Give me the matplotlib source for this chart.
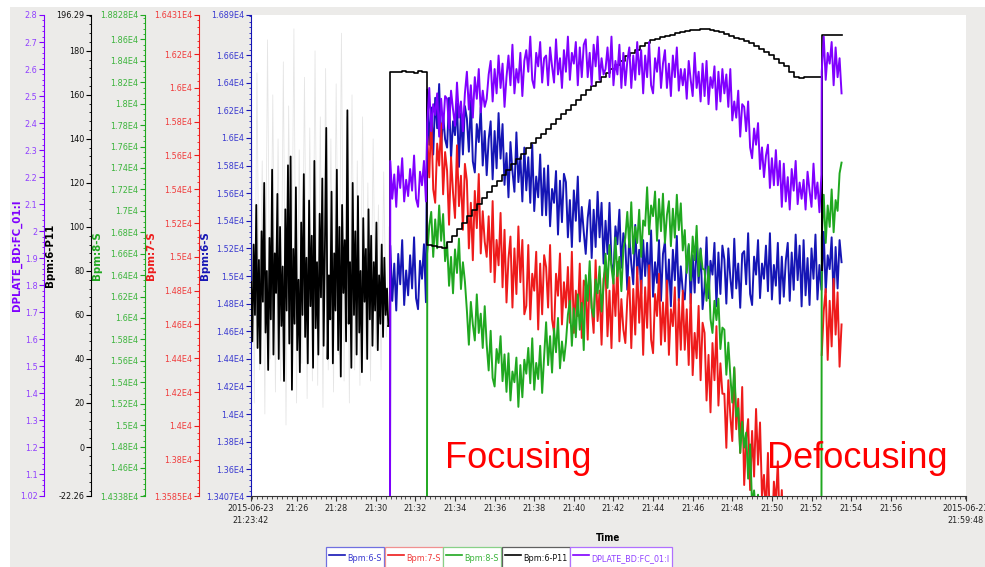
from datetime import datetime, timedelta
import matplotlib
matplotlib.use("Agg")
import matplotlib.pyplot as plt
import matplotlib.dates as mdates
from matplotlib.ticker import FixedLocator, MultipleLocator, FuncFormatter
from matplotlib.lines import Line2D
from matplotlib.patches import Rectangle

plt.rcParams['font.family'] = 'DejaVu Sans'
plt.rcParams['font.stretch'] = 'condensed'

DAY = "2015-06-23 "
GAP = float('nan')

# ---------------- data ----------------
# Bpm:6-S
blue_off = [13000]                                               # 21:30:43
blue_a = [15220, 14820, 15090, 14750, 15160, 14940, 15260, 14790, 15040, 14860,   # 21:30:44, 6 s
          15150, 14910, 15280, 14840, 14760, 15110, 14980, 15230, 14810]
blue_b = [16350, 15950, 16220, 15880, 16290, 16070, 16390, 15920, 16170, 15990,   # 21:32:36, 6 s
          15930, 16290, 15850, 16120, 16020, 16250, 15790, 16180, 15880, 16230,
          16140, 15900, 16270, 15830, 15750, 16100, 15970, 16220, 15800, 16050,
          15730, 15990, 16120, 15700, 16050, 15780, 16180, 15850, 16100, 15660,
          15890, 15570, 15970, 15760, 15610, 16040, 15680, 15860, 15540, 15930,
          15620, 15860, 15530, 15950, 15470, 15720, 15570, 15880, 15440, 15780,
          15440, 15800, 15360, 15630, 15530, 15760, 15300, 15690, 15390, 15740,
          15680, 15280, 15550, 15210, 15620, 15400, 15720, 15250, 15500, 15320,
          15160, 15420, 15550, 15130, 15480, 15210, 15610, 15280, 15530, 15090,
          15400, 15160, 15530, 15090, 15010, 15360, 15230, 15480, 15060, 15310,
          15220, 14900, 15300, 15090, 14940, 15370, 15010, 15190, 14870, 15260,
          15000, 15240, 14910, 15330, 14850, 15100, 14950, 15260, 14820, 15160,
          15250, 14850, 15120, 14780, 15190, 14970, 15290, 14820, 15070, 14890,
          14830, 15090, 15220, 14800, 15150, 14880, 15280, 14950, 15200, 14760,
          14920, 15280, 14840, 15110, 15010, 15240, 14780, 15170, 14870, 15220,
          15120, 14800, 15200, 14990, 14840, 15270, 14910, 15090, 14770, 15160,
          15180, 14940, 15310, 14870, 14790, 15140, 15010, 15260, 14840, 15090,
          14980, 15220, 14890, 15310, 14830, 15080, 14930, 15240, 14800, 15140,
          14850, 15110, 15240, 14820, 15170, 14900, 15300, 14970, 15220, 14780,
          15260, 14860, 15130, 14790, 15200, 14980, 15300, 14830, 15080, 14900]
blue_c = [14960, 15320, 14880, 15150, 15050, 15280, 14820, 15210, 14910, 15260, 15100]  # 21:52:31, 6 s

# Bpm:7-S
red_b = [15710, 15470, 15840, 15400, 15320, 15670, 15540, 15790, 15370, 15620,    # 21:32:36, 6 s
         15510, 15190, 15590, 15380, 15230, 15660, 15300, 15480, 15160, 15550,
         15450, 15050, 15320, 14980, 15390, 15170, 15490, 15020, 15270, 15090,
         15000, 15240, 14910, 15330, 14850, 15100, 14950, 15260, 14820, 15160,
         14730, 14990, 15120, 14700, 15050, 14780, 15180, 14850, 15100, 14660,
         14710, 15070, 14630, 14900, 14800, 15030, 14570, 14960, 14660, 15010,
         14940, 14700, 15070, 14630, 14550, 14900, 14770, 15020, 14600, 14850,
         14700, 14940, 14610, 15030, 14550, 14800, 14650, 14960, 14520, 14860,
         14830, 14510, 14910, 14700, 14550, 14980, 14620, 14800, 14480, 14870,
         14930, 14530, 14800, 14460, 14870, 14650, 14970, 14500, 14750, 14570,
         14490, 14750, 14880, 14460, 14810, 14540, 14940, 14610, 14860, 14420,
         14820, 14580, 14950, 14510, 14430, 14780, 14650, 14900, 14480, 14730,
         14500, 14860, 14420, 14690, 14590, 14820, 14360, 14750, 14450, 14800,
         14450, 14690, 14360, 14780, 14300, 14550, 14400, 14710, 14270, 14610,
         14550, 14150, 14420, 14080, 14490, 14270, 14590, 14120, 14370, 14190,
         14190, 13870, 14270, 14060, 13910, 14340, 13980, 14160, 13840, 14230,
         13650, 13910, 14040, 13620, 13970, 13700, 14100, 13770, 14020, 13580,
         13710, 13470, 13840, 13400, 13320, 13670, 13540, 13790, 13370, 13620,
         13300, 13180, 13350, 13150, 13280, 13200, 13320, 13160, 13260, 13190,
         13240, 13170, 13300, 13150, 13260, 13180, 13290, 13160, 13250, 13200]
red_c = [14420, 14680, 14810, 14390, 14740, 14470, 14870, 14540, 14790, 14350, 14600]  # 21:52:31, 6 s

# Bpm:8-S
green_off = [14000]                                              # 21:32:35
green_b = [16600, 16860, 16990, 16570, 16920, 16650, 17050, 16720, 16970, 16530,  # 21:32:36, 6 s
           16700, 16300, 16570, 16230, 16640, 16420, 16740, 16270, 16520, 16340,
           16070, 15750, 16150, 15940, 15790, 16220, 15860, 16040, 15720, 16110,
           15750, 15510, 15880, 15440, 15360, 15710, 15580, 15830, 15410, 15660,
           15310, 15670, 15230, 15500, 15400, 15630, 15170, 15560, 15260, 15610,
           15480, 15720, 15390, 15810, 15330, 15580, 15430, 15740, 15300, 15640,
           15960, 15560, 15830, 15490, 15900, 15680, 16000, 15530, 15780, 15600,
           15770, 16030, 16160, 15740, 16090, 15820, 16220, 15890, 16140, 15700,
           16400, 16160, 16530, 16090, 16010, 16360, 16230, 16480, 16060, 16310,
           16600, 16280, 16680, 16470, 16320, 16750, 16390, 16570, 16250, 16640,
           16750, 16990, 16660, 17080, 16600, 16850, 16700, 17010, 16570, 16910,
           16860, 17220, 16780, 17050, 16950, 17180, 16720, 17110, 16810, 17160,
           16700, 16960, 17090, 16670, 17020, 16750, 17150, 16820, 17070, 16630,
           16820, 16420, 16690, 16350, 16760, 16540, 16860, 16390, 16640, 16460,
           16450, 16160, 16480, 15990, 15860, 16160, 15980, 16180, 15710, 15910,
           15890, 15470, 15770, 15460, 15210, 15540, 15080, 15160, 14740, 15030,
           14790, 14930, 14500, 14820, 14240, 14390, 14140, 14350, 13810, 14050,
           13900, 13820, 13950, 13780, 13880, 13800, 13920, 13760, 13870, 13810,
           13850, 13780, 13900, 13760, 13840, 13800, 13880, 13770, 13860, 13790,
           13830, 13760, 13880, 13790, 13850, 13770, 13900, 13780, 13840, 13800]
green_c = [16750, 17150, 16700, 17050, 16850, 17200, 16800, 17100, 17000, 17350, 17450]  # 21:52:31, 6 s

# Bpm:6-P11
p11_noise = [75, 48, 92, 60, 110, 45, 85, 38, 98, 66, 120, 52, 80, 35, 95,        # 21:23:42, 4 s
             58, 126, 42, 88, 70, 115, 40, 100, 55, 82, 30, 108, 62, 128, 47,
             132, 26, 90, 56, 118, 44, 76, 34, 102, 60, 124, 50, 86, 38, 112,
             64, 96, 36, 130, 54, 84, 42, 106, 68, 122, 46, 92, 145, 40, 78,
             58, 116, 38, 88, 62, 126, 44, 100, 32, 110, 70, 94, 48, 153, 56,
             84, 36, 120, 60, 98, 42, 114, 52, 80, 34, 104, 66, 90, 40, 108,
             58, 96, 46, 84, 62, 102, 44, 78, 56, 92, 50, 86, 60, 72, 55]
p11_haze = [150, 20, 170, 35, 130, 15, 185, 40, 160, 25,                         # 21:23:44, 8 s (faint)
            140, 30, 175, 10, 155, 45, 190, 20, 135, 38,
            168, 22, 145, 30, 180, 28, 150, 18, 172, 35,
            140, 25, 165, 42, 188, 30, 150, 20, 160, 35,
            130, 28, 150, 40, 120, 30, 140, 45, 110, 35,
            125, 50, 100]
p11_hold = [170.2, 170.6, 170.4, 170.8, 170.3, 170.5, 170.1, 170.7, 170.4, 170.6]  # 21:30:44, 12 s
p11_ramp = [91.8, 91.5, 91.0, 90.4, 93.2, 96.1, 99.0, 101.9, 104.8, 107.7,        # 21:32:36, 15 s
            110.6, 113.3, 115.9, 118.5, 121.0, 123.5, 126.0, 128.5, 131.0, 133.3,
            135.8, 138.0, 140.2, 142.4, 144.6, 146.8, 149.0, 151.1, 153.3, 155.5,
            157.6, 159.8, 162.0, 164.0, 166.0, 167.9, 169.9, 171.8, 173.7, 175.5,
            177.6, 179.1, 180.6, 182.0, 183.4, 184.8, 185.5, 186.1, 186.7, 187.3,
            187.9, 188.6, 188.9, 189.3, 189.6, 189.9, 189.9, 189.7, 189.2, 188.6,
            187.7, 186.9, 186.0, 185.2, 184.3, 183.5, 182.2, 180.8, 179.5, 178.1,
            176.4, 174.7, 173.0, 170.5, 168.0, 167.5, 167.9, 168.1, 168.0, 168.2]
p11_dip = [80.4]                                                 # 21:52:31
p11_top = [187.2, 187.0, 187.3, 187.1, 187.4, 187.2]             # 21:52:32, 12 s

# DPLATE_BD:FC_01:I
purple_off = [0.9]                                               # 21:30:43
purple_a = [2.26, 2.12, 2.21, 2.09, 2.24, 2.16, 2.27, 2.11, 2.19, 2.13,          # 21:30:44, 6 s
            2.23, 2.15, 2.28, 2.12, 2.09, 2.22, 2.17, 2.26, 2.11]
purple_b = [2.40, 2.53, 2.37, 2.47, 2.43, 2.51, 2.35, 2.49, 2.38, 2.50,          # 21:32:36, 6 s
            2.49, 2.38, 2.52, 2.45, 2.39, 2.55, 2.42, 2.48, 2.37, 2.51,
            2.59, 2.45, 2.54, 2.42, 2.57, 2.49, 2.60, 2.44, 2.52, 2.46,
            2.49, 2.58, 2.63, 2.48, 2.60, 2.51, 2.65, 2.53, 2.62, 2.46,
            2.57, 2.65, 2.54, 2.69, 2.51, 2.60, 2.55, 2.66, 2.50, 2.63,
            2.67, 2.59, 2.72, 2.56, 2.53, 2.66, 2.61, 2.70, 2.55, 2.64,
            2.65, 2.54, 2.68, 2.61, 2.55, 2.71, 2.58, 2.64, 2.53, 2.67,
            2.59, 2.72, 2.56, 2.66, 2.62, 2.70, 2.54, 2.68, 2.57, 2.69,
            2.71, 2.57, 2.66, 2.54, 2.69, 2.61, 2.72, 2.56, 2.64, 2.58,
            2.60, 2.68, 2.57, 2.72, 2.54, 2.63, 2.58, 2.69, 2.53, 2.66,
            2.54, 2.63, 2.68, 2.53, 2.65, 2.56, 2.70, 2.58, 2.67, 2.51,
            2.65, 2.57, 2.70, 2.54, 2.51, 2.64, 2.59, 2.68, 2.53, 2.62,
            2.67, 2.53, 2.62, 2.50, 2.65, 2.57, 2.68, 2.52, 2.60, 2.54,
            2.60, 2.49, 2.63, 2.56, 2.50, 2.66, 2.53, 2.59, 2.48, 2.62,
            2.50, 2.63, 2.47, 2.57, 2.53, 2.61, 2.45, 2.59, 2.48, 2.60,
            2.51, 2.58, 2.46, 2.60, 2.41, 2.48, 2.42, 2.52, 2.35, 2.47,
            2.46, 2.37, 2.48, 2.31, 2.27, 2.38, 2.32, 2.40, 2.23, 2.31,
            2.20, 2.28, 2.32, 2.16, 2.27, 2.17, 2.30, 2.17, 2.26, 2.09,
            2.25, 2.11, 2.20, 2.08, 2.23, 2.15, 2.26, 2.10, 2.18, 2.12,
            2.19, 2.08, 2.22, 2.15, 2.09, 2.25, 2.12, 2.18, 2.07, 2.21]
purple_c = [2.59, 2.72, 2.56, 2.66, 2.62, 2.70, 2.54, 2.68, 2.57, 2.64, 2.51]    # 21:52:31, 6 s

# axis ranges and ticks
blue_lim = (13407, 16890)
red_lim = (13585, 16431)
green_lim = (14338, 18828)
p11_lim = (-22.26, 196.29)
purple_lim = (1.02, 2.8)
blue_ticks = [13407] + list(range(13600, 16601, 200)) + [16890]
red_ticks = [13585] + list(range(13800, 16201, 200)) + [16431]
green_ticks = [14338] + list(range(14600, 18601, 200)) + [18828]
p11_ticks = [-22.26] + list(range(0, 181, 20)) + [196.29]
purple_ticks = [1.02, 1.1, 1.2, 1.3, 1.4, 1.5, 1.6, 1.7, 1.8, 1.9, 2.0,
                2.1, 2.2, 2.3, 2.4, 2.5, 2.6, 2.7, 2.8]

x_start, x_end = "21:23:42", "21:59:48"
x_tick_times = ["21:23:42", "21:26:00", "21:28:00", "21:30:00", "21:32:00", "21:34:00",
                "21:36:00", "21:38:00", "21:40:00", "21:42:00", "21:44:00", "21:46:00",
                "21:48:00", "21:50:00", "21:52:00", "21:54:00", "21:56:00", "21:59:48"]
x_tick_labels = ["2015-06-23\n21:23:42", "21:26", "21:28", "21:30", "21:32", "21:34",
                 "21:36", "21:38", "21:40", "21:42", "21:44", "21:46",
                 "21:48", "21:50", "21:52", "21:54", "21:56", "2015-06-23\n21:59:48"]


def ts(hms):
    return datetime.strptime(DAY + hms, "%Y-%m-%d %H:%M:%S")


def build(*segments):
    # each segment: (start time, sample step in seconds, values)
    times, vals = [], []
    for start, step, values in segments:
        t0 = ts(start)
        times += [t0 + timedelta(seconds=step * i) for i in range(len(values))]
        vals += list(values)
    return times, vals


def e4(v, pos=None):
    return f"{v / 1e4:.4f}".rstrip('0').rstrip('.') + "E4"


blue_t, blue_v = build(("21:30:43", 1, blue_off), ("21:30:44", 6, blue_a),
                       ("21:32:36", 6, blue_b), ("21:52:31", 6, blue_c))
red_t, red_v = build(("21:32:36", 6, red_b), ("21:52:30", 1, [GAP]), ("21:52:31", 6, red_c))
green_t, green_v = build(("21:32:35", 1, green_off), ("21:32:36", 6, green_b),
                         ("21:52:31", 6, green_c))
noise_t, noise_v = build(("21:23:42", 4, p11_noise))
p11_t, p11_v = build(("21:30:38", 1, p11_noise[-1:]), ("21:30:44", 12, p11_hold),
                     ("21:32:36", 15, p11_ramp), ("21:52:31", 1, p11_dip),
                     ("21:52:32", 12, p11_top))
haze_t, haze_v = build(("21:23:44", 8, p11_haze))
purple_t, purple_v = build(("21:30:43", 1, purple_off), ("21:30:44", 6, purple_a),
                           ("21:32:36", 6, purple_b), ("21:52:31", 6, purple_c))

# ---------------- figure ----------------
W, H = 985, 567
BG = '#ecebe9'
fig = plt.figure(figsize=(W / 100, H / 100), dpi=100, facecolor=BG)
fig.add_artist(Rectangle((0, 1 - 7 / H), 1, 7 / H, transform=fig.transFigure,
                         facecolor='white', edgecolor='none'))
fig.add_artist(Rectangle((0, 0), 10 / W, 1, transform=fig.transFigure,
                         facecolor='white', edgecolor='none'))

left, right, top, bottom = 251, 966, 15, 496
ax = fig.add_axes([left / W, 1 - bottom / H, (right - left) / W, (bottom - top) / H])
ax.set_facecolor('white')

# name, line colour, text colour, legend edge, limits, ticks, formatter, minor step,
# spine offset px, label x px, times, values
series = [
    ('Bpm:6-S', '#1515b5', '#3a3ad0', '#7070e0', blue_lim, blue_ticks, FuncFormatter(e4), 40, 0, 205,
     blue_t, blue_v),
    ('Bpm:7-S', '#ee1b1b', '#f03c3c', '#f09090', red_lim, red_ticks, FuncFormatter(e4), 40, 52, 151,
     red_t, red_v),
    ('Bpm:8-S', '#20a820', '#3cb43c', '#88d088', green_lim, green_ticks, FuncFormatter(e4), 50, 106, 97,
     green_t, green_v),
    ('Bpm:6-P11', '#000000', '#111111', '#606060', p11_lim, p11_ticks,
     FuncFormatter(lambda v, p: f"{v:g}"), 4, 160, 50, p11_t, p11_v),
    ('DPLATE_BD:FC_01:I', '#8000ff', '#9040ff', '#b070ff', purple_lim, purple_ticks,
     FuncFormatter(lambda v, p: f"{v:g}"), 0.02, 207, 16.5, purple_t, purple_v),
]

axes = []
handles = []
for i, (name, lc, tc, ec, lim, ticks, fmt, minor, off, lx, tt, vv) in enumerate(series):
    a = ax if i == 0 else ax.twinx()
    if i > 0:
        a.yaxis.tick_left()
        a.yaxis.set_label_position('left')
        a.patch.set_visible(False)
        a.spines['bottom'].set_visible(False)
    for s in ('top', 'right'):
        a.spines[s].set_visible(False)
    a.spines['left'].set_visible(True)
    a.spines['left'].set_color(lc)
    a.spines['left'].set_position(('outward', off * 0.72))
    a.set_ylim(*lim)
    a.yaxis.set_major_locator(FixedLocator(ticks))
    a.yaxis.set_major_formatter(fmt)
    a.yaxis.set_minor_locator(MultipleLocator(minor))
    a.tick_params(axis='y', which='major', length=3.5, width=0.8, color=lc,
                  labelcolor=tc, labelsize=6.5, pad=1.2)
    a.tick_params(axis='y', which='minor', length=1.6, width=0.6, color=lc)
    a.set_ylabel(name, color=lc, fontsize=7.4, fontweight='bold',
                 fontstretch='normal', va='center')
    a.yaxis.set_label_coords(lx / W, 1 - 255.5 / H, transform=fig.transFigure)
    if name == 'Bpm:6-P11':
        a.plot(haze_t, haze_v, color='black', lw=0.6, alpha=0.1)
        a.plot(noise_t, noise_v, color=lc, lw=1.3)
        h, = a.plot(tt, vv, color=lc, lw=1.2, drawstyle='steps-post')
    else:
        h, = a.plot(tt, vv, color=lc, lw=1.4)
    axes.append(a)
    handles.append((h, name, tc, ec))

# x axis
ax.set_xlim(ts(x_start), ts(x_end))
ax.set_xticks([ts(t) for t in x_tick_times])
ax.set_xticklabels(x_tick_labels)
ax.xaxis.set_minor_locator(mdates.SecondLocator(bysecond=[0, 15, 30, 45]))
ax.spines['bottom'].set_color('#333333')
ax.tick_params(axis='x', which='major', length=3.5, width=0.8, color='#333333',
               labelsize=6.5, labelcolor='#222222', pad=2)
ax.tick_params(axis='x', which='minor', length=2, width=0.6, color='#333333')
for lab in ax.get_xticklabels():
    lab.set_linespacing(1.45)
ax.set_xlabel('Time', fontsize=7, fontweight='bold', va='top')
ax.xaxis.set_label_coords(0.5, -37 / (bottom - top))

# annotations
for label, px in (('Focusing', 445), ('Defocusing', 767)):
    axes[-1].text((px - left) / (right - left), (bottom - 468) / (bottom - top), label,
                  transform=ax.transAxes, color='#ff0000', fontsize=26,
                  family='Liberation Sans', fontstretch='normal', va='baseline')

# legend: one box per series
legend_x = [326, 385, 443, 502, 570]
for (h, name, tc, ec), lx in zip(handles, legend_x):
    proxy = Line2D([], [], color=h.get_color(), lw=1.2)
    leg = fig.legend(handles=[proxy], labels=[name], loc='upper left',
                     bbox_to_anchor=(lx / W, 1 - 547 / H), borderaxespad=0,
                     fontsize=6.5, handlelength=1.8, handleheight=2.6, handletextpad=0.25,
                     borderpad=0.3, fancybox=False, framealpha=1,
                     edgecolor=ec, labelcolor=tc)
    leg.get_frame().set_linewidth(0.9)

fig.savefig('out.png', dpi=100, facecolor=BG)
